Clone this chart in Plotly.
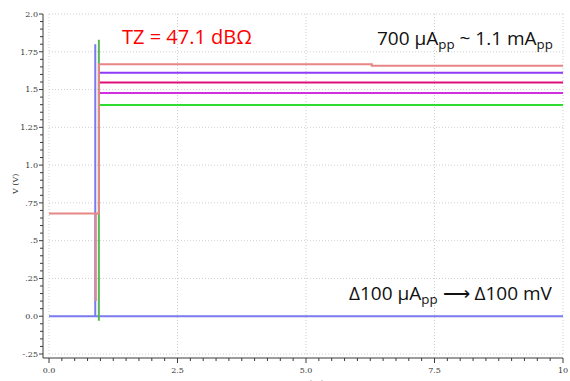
import plotly.graph_objects as go

# ---- data ----
blue_t = [0, 0.9, 0.9, 0.9, 10]
blue_v = [0, 0, 1.80, 0, 0]

green_vert_t = [0.97, 0.97]
green_vert_v = [-0.03, 1.83]

green_t = [0.97, 10]
green_v = [1.397, 1.397]

magenta_t = [0.97, 10]
magenta_v = [1.477, 1.477]

pink_t = [0.97, 10]
pink_v = [1.547, 1.547]

purple_t = [0.97, 10]
purple_v = [1.611, 1.611]

red_t = [0, 0.91, 0.91, 0.91, 0.97, 0.97, 6.28, 6.28, 10]
red_v = [0.68, 0.68, 0.10, 0.68, 0.68, 1.667, 1.667, 1.658, 1.658]

x_tickvals = [0, 2.5, 5.0, 7.5, 10]
x_ticktext = ["0.0", "2.5", "5.0", "7.5", "10"]
y_tickvals = [-0.25, 0, 0.25, 0.5, 0.75, 1.0, 1.25, 1.5, 1.75, 2.0]
y_ticktext = ["-.25", "0.0", ".25", ".5", ".75", "1.0", "1.25", "1.5", "1.75", "2.0"]
x_minor_step = 0.25
y_minor_step = 0.05

# ---- geometry (pixels) ----
W, H = 570, 381
L, R, T, B = 39, 5, 12, 17
PW, PH = W - L - R, H - T - B
GX0, GX1 = 49, 563          # gridded area, x
GY0, GY1 = 14, 354          # gridded area, y (top, bottom)
SPINE_X, SPINE_Y = 43, 358  # offset axis lines

XS = (GX1 - GX0) / (x_tickvals[-1] - x_tickvals[0])
YS = (GY1 - GY0) / (y_tickvals[-1] - y_tickvals[0])

def dx(p):  # pixel -> data x
    return x_tickvals[0] + (p - GX0) / XS

def dy(p):  # pixel -> data y
    return y_tickvals[-1] - (p - GY0) / YS

x_range = [dx(L), dx(W - R)]
y_range = [dy(H - B), dy(T)]

def px(x):
    return (x - L) / PW

def py(y):
    return (H - B - y) / PH

fig = go.Figure()

def add(t, v, color, width=2, dash=None):
    fig.add_trace(go.Scatter(x=t, y=v, mode="lines",
                             line=dict(color=color, width=width, dash=dash),
                             hoverinfo="skip", showlegend=False))

# grid
gx, gy = [], []
for v in x_tickvals:
    gx += [v, v, None]
    gy += [y_tickvals[0], y_tickvals[-1], None]
for v in y_tickvals:
    gx += [x_tickvals[0], x_tickvals[-1], None]
    gy += [v, v, None]
add(gx, gy, "#cfcfcf", width=1, dash="1px,2px")

# spines and tick marks
AXC = "#3a3a3a"
sx, sy = dx(SPINE_X), dy(SPINE_Y)
ax_x = [sx, sx, None, sx, x_tickvals[-1], None]
ax_y = [sy, y_tickvals[-1], None, sy, sy, None]
n_y = int(round((y_tickvals[-1] - y_tickvals[0]) / y_minor_step))
for i in range(n_y + 1):
    v = y_tickvals[0] + i * y_minor_step
    ln = 5 if i % 5 == 0 else 3
    ax_x += [dx(SPINE_X - ln), sx, None]
    ax_y += [v, v, None]
n_x = int(round((x_tickvals[-1] - x_tickvals[0]) / x_minor_step))
for i in range(n_x + 1):
    v = x_tickvals[0] + i * x_minor_step
    ln = 5 if i % 10 == 0 else 3
    ax_x += [v, v, None]
    ax_y += [sy, dy(SPINE_Y + ln), None]
add(ax_x, ax_y, AXC, width=1)

# data
add(blue_t, blue_v, "#7b7bef")
add(green_vert_t, green_vert_v, "#55b855")
add(green_t, green_v, "#2fdc2f")
add(magenta_t, magenta_v, "#d030e0")
add(pink_t, pink_v, "#e0107a")
add(purple_t, purple_v, "#8f3cf5")
add(red_t, red_v, "#e88585")

tickfont = dict(family="DejaVu Serif", size=8, color="#333333")

fig.update_layout(
    template="none",
    width=W, height=H,
    margin=dict(l=L, r=R, t=T, b=B, pad=0, autoexpand=False),
    paper_bgcolor="white", plot_bgcolor="white",
    xaxis=dict(
        domain=[0, 1], automargin=False, range=x_range,
        tickmode="array", tickvals=x_tickvals, ticktext=x_ticktext,
        ticks="", tickfont=tickfont, showline=False, showgrid=False, zeroline=False,
    ),
    yaxis=dict(
        domain=[0, 1], automargin=False, range=y_range,
        tickmode="array", tickvals=y_tickvals, ticktext=y_ticktext,
        ticks="", tickfont=tickfont, showline=False, showgrid=False, zeroline=False,
    ),
)

fig.add_annotation(x=px(120), y=py(36), xref="paper", yref="paper",
                   xanchor="left", yanchor="middle", showarrow=False,
                   text="TZ = 47.1 dBΩ",
                   font=dict(family="Open Sans", size=20, color="#ff0000"))
fig.add_annotation(x=px(555), y=py(39), xref="paper", yref="paper",
                   xanchor="right", yanchor="middle", showarrow=False,
                   text="700 µA<sub>pp</sub> ~ 1.1 mA<sub>pp</sub>",
                   font=dict(family="Open Sans", size=19, color="#111111"))
fig.add_annotation(x=px(555), y=py(294), xref="paper", yref="paper",
                   xanchor="right", yanchor="middle", showarrow=False,
                   text="Δ100 µA<sub>pp</sub> ⟶ Δ100 mV",
                   font=dict(family="Open Sans", size=19, color="#111111"))
fig.add_annotation(x=px(15), y=py(185), xref="paper", yref="paper",
                   xanchor="center", yanchor="middle", showarrow=False,
                   textangle=-90, text="V (V)", font=tickfont)
fig.add_annotation(x=px(306), y=py(377), xref="paper", yref="paper",
                   xanchor="center", yanchor="top", showarrow=False,
                   text="time (us)", font=tickfont)

fig.write_html("out.html", config={"displayModeBar": False},
               post_script="document.body.style.margin='0';document.body.style.padding='0';")
